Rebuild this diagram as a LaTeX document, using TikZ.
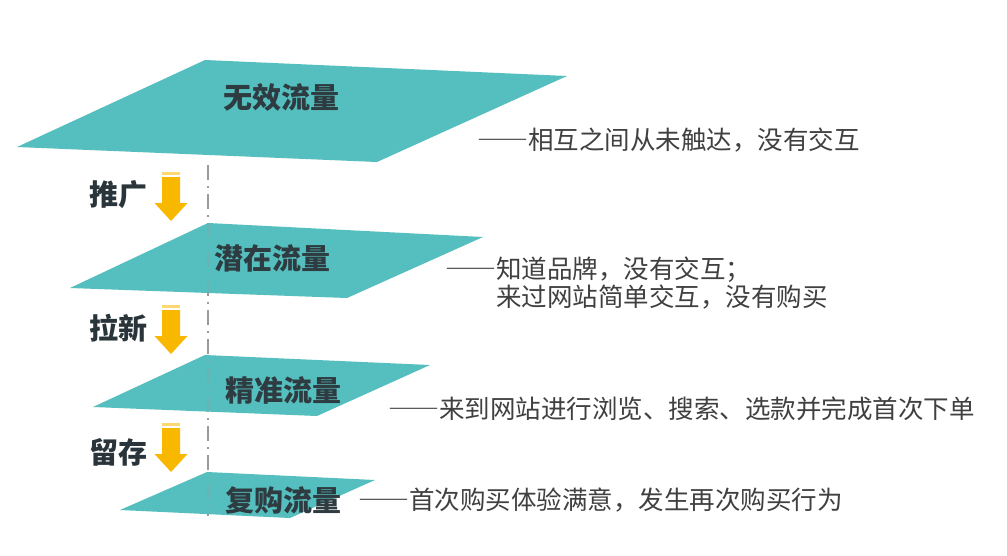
\documentclass[tikz,border=0pt]{standalone}
\usepackage{fontspec}
\newfontfamily\cjk{Noto Sans CJK SC}
\newfontfamily\cjkfw[RawFeature=+fwid]{Noto Sans CJK SC}
\usetikzlibrary{calc}
\definecolor{teal1}{HTML}{55BEBE}
\definecolor{arrowcol}{HTML}{F8B800}
\definecolor{labelcol}{HTML}{2E3B40}
\definecolor{desccol}{HTML}{404040}
\definecolor{dashcol}{HTML}{9A9A9A}
\tikzset{
  plane/.style={fill=teal1, draw=none},
  layerlabel/.style={font=\cjk\bfseries\fontsize{29}{32}\selectfont, text=labelcol, inner sep=0pt},
  sidelabel/.style={font=\cjk\bfseries\fontsize{29}{32}\selectfont, text=labelcol!90!black, inner sep=0pt},
  desc/.style={font=\cjkfw\fontsize{25.5}{28}\selectfont, text=desccol, inner sep=0pt, anchor=west, align=left},
  dashline/.style={draw=dashcol, line width=1.5pt, dash pattern=on 15pt off 6pt on 2pt off 6pt},
  downarr/.pic={
    \fill[arrowcol!55] (-9,0) rectangle (9,3);
    \fill[arrowcol] (-9,5) -- (9,5) -- (9,31) -- (16.5,31) -- (0,49) -- (-16.5,31) -- (-9,31) -- cycle;
  }
}
\begin{document}
\begin{tikzpicture}[x=1pt, y=-1pt]
\useasboundingbox (0,0) rectangle (1007,555);
\fill[white] (0,0) rectangle (1007,555);

% dashed axis behind the planes
\draw[dashline] (208,165) -- (208,516);

% planes
\fill[plane] (205,60) -- (567,76) -- (377,162) -- (17,147) -- cycle;
\fill[plane] (208,223) -- (483,237) -- (347,298) -- (70,288) -- cycle;
\fill[plane] (205,355) -- (430,365) -- (317,416) -- (93,407) -- cycle;
\fill[plane] (207,472) -- (375,480) -- (290,518) -- (120,510) -- cycle;

% faint axis seen through the planes
\draw[dashline, opacity=0.3] (208,165) -- (208,516);

% layer labels
\node[layerlabel] (l1) at (281,97) {无效流量};
\node[layerlabel] (l2) at (272,258) {潜在流量};
\node[layerlabel] (l3) at (283,390) {精准流量};
\node[layerlabel] (l4) at (283,500) {复购流量};

% side labels
\node[sidelabel] (s1) at (118,195) {推广};
\node[sidelabel] (s2) at (118,328) {拉新};
\node[sidelabel] (s3) at (118,452) {留存};

% yellow arrows
\pic at (171,172) {downarr};
\pic at (171,305) {downarr};
\pic at (171,423) {downarr};

% descriptions
\node[desc] (d1) at (477,140) {——相互之间从未触达，没有交互};
\node[desc, anchor=north west] (d2) at (445,257) {——知道品牌，没有交互；\\\hspace*{2em}来过网站简单交互，没有购买};
\node[desc] (d3) at (388,409) {——来到网站进行浏览、搜索、选款并完成首次下单};
\node[desc] (d4) at (358,500) {——首次购买体验满意，发生再次购买行为};
\end{tikzpicture}
\end{document}
